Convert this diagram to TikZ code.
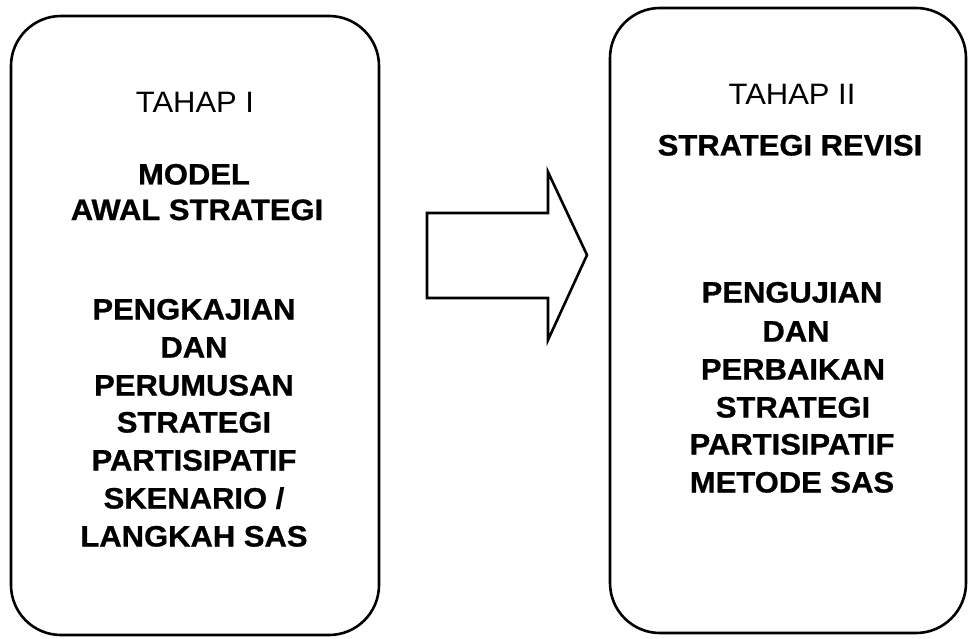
\documentclass[tikz,border=0pt]{standalone}
\usepackage{fontspec}
\setmainfont{Liberation Sans}[FakeStretch=1.05,BoldFeatures={FakeBold=0.8}]
\begin{document}
\begin{tikzpicture}[x=1pt,y=-1pt,
  stagebox/.style={draw=black,line width=2.6pt,rounded corners=50pt},
  plain/.style={anchor=base,inner sep=0pt,font=\fontsize{29.5}{36}\selectfont},
  heavy/.style={anchor=base,inner sep=0pt,font=\fontsize{29.5}{36}\selectfont\bfseries},
  blockarrow/.style={draw=black,line width=2.6pt,line join=miter}]
\useasboundingbox (0,0) rectangle (968,639);
% boxes
\draw[stagebox] (11,16) rectangle (379,635);
\draw[stagebox] (610,8) rectangle (966,633);
% block arrow
\coordinate (a1) at (427,213);
\coordinate (a2) at (548,213);
\coordinate (a3) at (548,172);
\coordinate (a4) at (587,255);
\coordinate (a5) at (548,340);
\coordinate (a6) at (548,298);
\coordinate (a7) at (427,298);
\draw[blockarrow] (a1) -- (a2) -- (a3) -- (a4) -- (a5) -- (a6) -- (a7) -- cycle;
% left texts
\node[plain] (t1) at (195,113) {TAHAP I};
\node[heavy] (m1) at (194,184.5) {MODEL};
\node[heavy] (m2) at (197,220) {AWAL STRATEGI};
\node[heavy] (p1) at (194,319.5) {PENGKAJIAN};
\node[heavy] (p2) at (194,357.5) {DAN};
\node[heavy] (p3) at (194,395.5) {PERUMUSAN};
\node[heavy] (p4) at (194,432.5) {STRATEGI};
\node[heavy] (p5) at (194,470.5) {PARTISIPATIF};
\node[heavy] (p6) at (194,508.5) {SKENARIO /};
\node[heavy] (p7) at (194,546.5) {LANGKAH SAS};
% right texts
\node[plain] (t2) at (792,104.5) {TAHAP II};
\node[heavy] (r1) at (790,155.5) {STRATEGI REVISI};
\node[heavy] (q1) at (792,302.5) {PENGUJIAN};
\node[heavy] (q2) at (796,341.5) {DAN};
\node[heavy] (q3) at (793,379.5) {PERBAIKAN};
\node[heavy] (q4) at (793,417.5) {STRATEGI};
\node[heavy] (q5) at (792,454.5) {PARTISIPATIF};
\node[heavy] (q6) at (792,492.5) {METODE SAS};
\end{tikzpicture}
\end{document}
